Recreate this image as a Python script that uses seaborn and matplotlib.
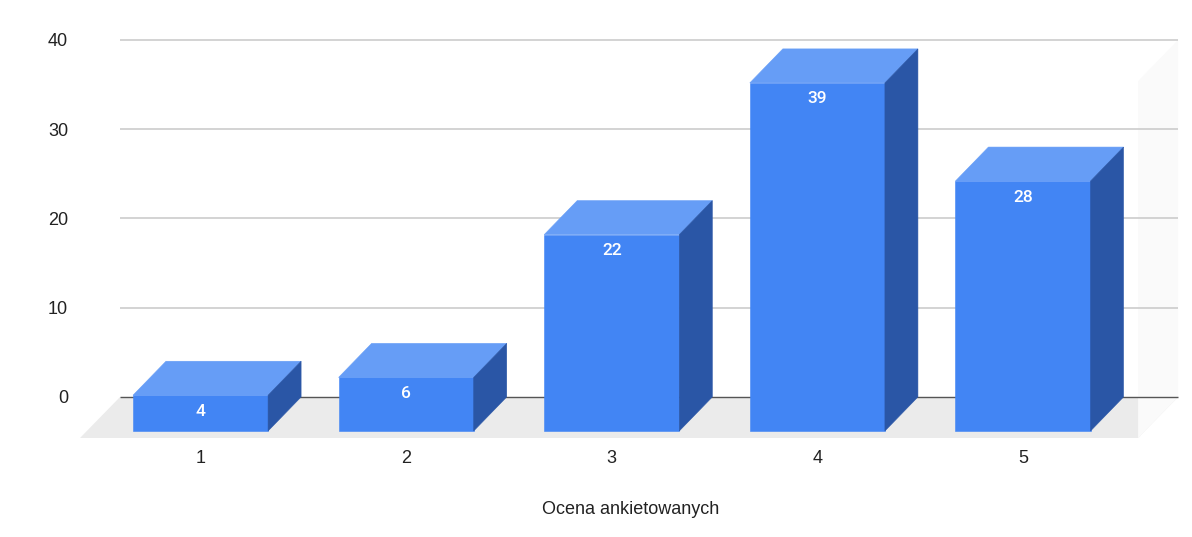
import matplotlib
matplotlib.use("Agg")
import matplotlib.pyplot as plt
from matplotlib.patches import Polygon
import seaborn as sns

# dane z ankiety
categories = ["1", "2", "3", "4", "5"]
counts = [4, 6, 22, 39, 28]
y_ticks = [0, 10, 20, 30, 40]
x_title = "Ocena ankietowanych"

front_color = "#4285F4"
top_color = "#669DF6"
side_color = "#2A56A6"

sns.set_theme(style="white")
plt.rcParams["font.family"] = ["Liberation Sans", "DejaVu Sans"]

fig = plt.figure(figsize=(11.92, 5.37), dpi=100)
ax = fig.add_axes([0.0613, 0.1777, 0.9349, 0.7811])

# glebokosc efektu 3D (w jednostkach danych)
dx = 0.1605
dy = 3.81
bar_w = 0.657

sns.barplot(x=categories, y=counts, color=front_color, saturation=1,
            width=bar_w, ax=ax, zorder=3, edgecolor=front_color, linewidth=0.4)
bars = list(ax.containers[0])

ax.set_xlim(-0.62, 4.8)
ax.set_ylim(-5, 42)

# podloga
floor = Polygon([(-0.3915, 0), (4.754, 0), (4.560, -4.594), (-0.5861, -4.594)],
                closed=True, facecolor="#EBEBEB", edgecolor="none", zorder=0)
ax.add_patch(floor)

# delikatna sciana boczna
wall = Polygon([(4.754, 40), (4.754, 0), (4.560, -4.594), (4.560, 35.4)],
               closed=True, facecolor="#FAFAFA", edgecolor="none", zorder=0)
ax.add_patch(wall)

# linie siatki
for t in y_ticks[1:]:
    ax.hlines(t, -0.3915, 4.754, color="#CCCCCC", lw=1.2, zorder=1)
ax.hlines(0, -0.3915, 4.754, color="#555555", lw=1.0, zorder=1)

for p, v in zip(bars, counts):
    p.set_y(-dy)
    x0 = p.get_x()
    x1 = x0 + p.get_width()
    top = v - dy
    ax.add_patch(Polygon([(x0, top), (x1, top), (x1 + dx, v), (x0 + dx, v)],
                         closed=True, facecolor=top_color, edgecolor=top_color,
                         linewidth=0.4, zorder=3))
    ax.add_patch(Polygon([(x1, -dy), (x1, top), (x1 + dx, v), (x1 + dx, 0)],
                         closed=True, facecolor=side_color, edgecolor=side_color,
                         linewidth=0.4, zorder=3))
    ax.text((x0 + x1) / 2, top - 1.8, str(v), ha="center", va="center",
            color="white", fontsize=12.5, fontweight="medium",
            family=["Roboto", "DejaVu Sans"], zorder=4)

ax.set_yticks(y_ticks)
ax.set_yticklabels([str(t) for t in y_ticks])
ax.tick_params(axis="y", length=0, pad=3.6, labelsize=13, labelcolor="#222222")
ax.tick_params(axis="x", length=0, pad=6, labelsize=13, labelcolor="#222222")
ax.set_xlabel(x_title, fontsize=13, color="#222222", labelpad=24.5)
ax.set_ylabel("")
sns.despine(ax=ax, left=True, bottom=True)

fig.savefig("out.png", dpi=100, facecolor="white")
